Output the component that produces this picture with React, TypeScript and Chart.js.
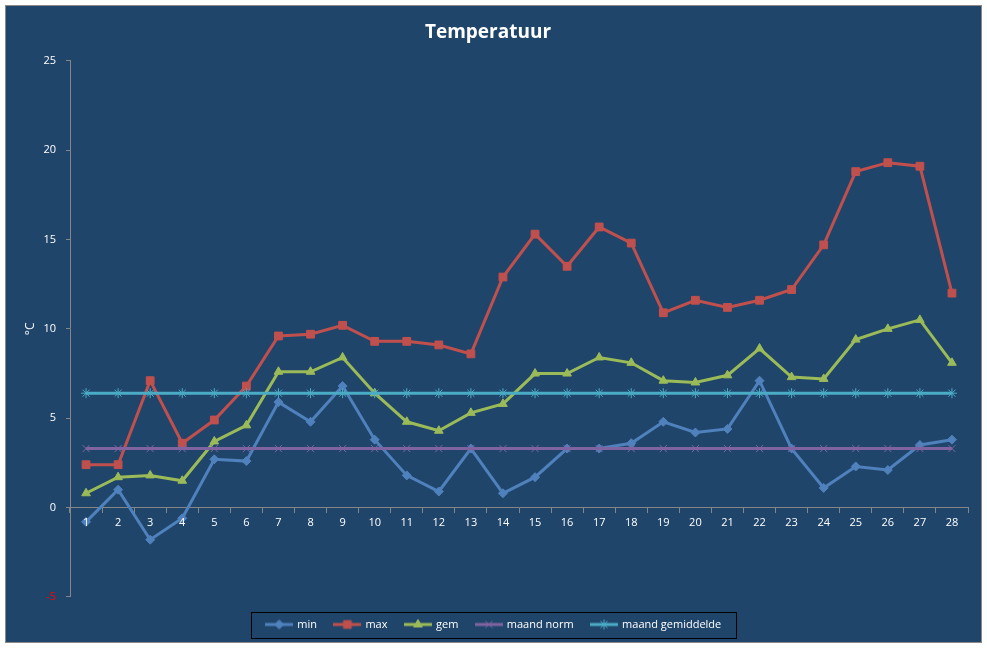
import React, { useEffect, useRef } from 'react';
import { Chart, registerables } from 'chart.js';
import { drawPoint } from 'chart.js/helpers';

Chart.register(...registerables);

// days of the month
const days = ['1', '2', '3', '4', '5', '6', '7', '8', '9', '10', '11', '12', '13', '14',
    '15', '16', '17', '18', '19', '20', '21', '22', '23', '24', '25', '26', '27', '28'];

const minTemp = [-0.8, 1.0, -1.8, -0.6, 2.7, 2.6, 5.9, 4.8, 6.8, 3.8, 1.8, 0.9, 3.3, 0.8,
    1.7, 3.3, 3.3, 3.6, 4.8, 4.2, 4.4, 7.1, 3.3, 1.1, 2.3, 2.1, 3.5, 3.8];
const maxTemp = [2.4, 2.4, 7.1, 3.6, 4.9, 6.8, 9.6, 9.7, 10.2, 9.3, 9.3, 9.1, 8.6, 12.9,
    15.3, 13.5, 15.7, 14.8, 10.9, 11.6, 11.2, 11.6, 12.2, 14.7, 18.8, 19.3, 19.1, 12.0];
const gemTemp = [0.8, 1.7, 1.8, 1.5, 3.7, 4.6, 7.6, 7.6, 8.4, 6.4, 4.8, 4.3, 5.3, 5.8,
    7.5, 7.5, 8.4, 8.1, 7.1, 7.0, 7.4, 8.9, 7.3, 7.2, 9.4, 10.0, 10.5, 8.1];
const maandNorm = [3.3, 3.3, 3.3, 3.3, 3.3, 3.3, 3.3, 3.3, 3.3, 3.3, 3.3, 3.3, 3.3, 3.3,
    3.3, 3.3, 3.3, 3.3, 3.3, 3.3, 3.3, 3.3, 3.3, 3.3, 3.3, 3.3, 3.3, 3.3];
const maandGem = [6.4, 6.4, 6.4, 6.4, 6.4, 6.4, 6.4, 6.4, 6.4, 6.4, 6.4, 6.4, 6.4, 6.4,
    6.4, 6.4, 6.4, 6.4, 6.4, 6.4, 6.4, 6.4, 6.4, 6.4, 6.4, 6.4, 6.4, 6.4];

const seriesNames = ['min', 'max', 'gem', 'maand norm', 'maand gemiddelde'];
const seriesColors = ['#4f81bd', '#c0504d', '#9bbb59', '#8064a2', '#4bacc6'];
const seriesMarkers = ['rectRot', 'rect', 'triangle', 'crossRot', 'star'];
const markerSizes = [4.5, 5.5, 5, 5, 5];

const yMin = -5;
const yMax = 25;
const yStep = 5;

const FONT = "'Open Sans', 'Noto Sans', sans-serif";
const BG = '#20456a';

// little line + marker icons for the legend
function makeLegendIcon(color: string, marker: string, size: number) {
    const c = document.createElement('canvas');
    c.width = 28;
    c.height = 12;
    const ctx = c.getContext('2d')!;
    ctx.strokeStyle = color;
    ctx.lineWidth = 3;
    ctx.beginPath();
    ctx.moveTo(0, 6);
    ctx.lineTo(28, 6);
    ctx.stroke();
    ctx.fillStyle = color;
    ctx.lineWidth = 1;
    drawPoint(ctx, { pointStyle: marker, radius: size, borderWidth: 1, rotation: 0 } as any, 14, 6);
    return c;
}

const backgroundPlugin = {
    id: 'bg',
    beforeDraw(chart: Chart) {
        const { ctx, width, height } = chart;
        ctx.save();
        ctx.fillStyle = '#ffffff';
        ctx.fillRect(0, 0, width, height);
        ctx.fillStyle = BG;
        ctx.fillRect(5, 5, width - 10, height - 10);
        ctx.strokeStyle = '#8a8a8a';
        ctx.lineWidth = 1;
        ctx.strokeRect(5.5, 5.5, width - 11, height - 11);
        ctx.restore();
    }
};

// nudge the legend a bit to the right, and frame it
const legendBorderPlugin = {
    id: 'legendBorder',
    afterLayout(chart: Chart) {
        const legend: any = chart.legend;
        if (!legend) return;
        legend.left += 6;
        legend.right += 6;
    },
    afterDraw(chart: Chart) {
        const legend: any = chart.legend;
        if (!legend || !legend.legendHitBoxes || !legend.legendHitBoxes.length) return;
        const boxes = legend.legendHitBoxes;
        let left = Infinity;
        let right = -Infinity;
        boxes.forEach((b: any) => {
            left = Math.min(left, b.left);
            right = Math.max(right, b.left + b.width);
        });
        const cy = boxes[0].top + boxes[0].height / 2;
        const ctx = chart.ctx;
        ctx.save();
        ctx.strokeStyle = '#000000';
        ctx.lineWidth = 1;
        ctx.strokeRect(Math.round(left - 16) + 0.5, Math.round(cy - 13) + 0.5, Math.round(right - left + 30), 26);
        ctx.restore();
    }
};

const App: React.FC = () => {
    const chartRef = useRef<HTMLCanvasElement | null>(null);
    const chartInstanceRef = useRef<Chart | null>(null);

    useEffect(() => {
        if (!chartRef.current) return;
        const ctx = chartRef.current.getContext('2d');
        if (!ctx) return;

        const icons = seriesColors.map((c, i) => makeLegendIcon(c, seriesMarkers[i], markerSizes[i]));
        const values = [minTemp, maxTemp, gemTemp, maandNorm, maandGem];

        chartInstanceRef.current = new Chart(ctx, {
            type: 'line',
            data: {
                labels: days,
                datasets: values.map((data, i) => ({
                    label: seriesNames[i],
                    data,
                    borderColor: seriesColors[i],
                    backgroundColor: seriesColors[i],
                    borderWidth: 3,
                    pointStyle: seriesMarkers[i] as any,
                    pointRadius: markerSizes[i],
                    pointBorderWidth: 1,
                    pointBackgroundColor: seriesColors[i],
                    pointBorderColor: seriesColors[i],
                    tension: 0,
                    order: 5 - i
                }))
            },
            options: {
                animation: false,
                responsive: true,
                maintainAspectRatio: false,
                layout: { padding: { left: 8, right: 19, top: 0, bottom: 8 } },
                plugins: {
                    title: {
                        display: true,
                        text: 'Temperatuur',
                        color: '#ffffff',
                        font: { family: FONT, size: 19, weight: 'bold' },
                        padding: { top: 21, bottom: 17 }
                    },
                    legend: {
                        position: 'bottom',
                        // empty title only used as a spacer above the items
                        title: { display: true, text: ' ', font: { size: 3.4 }, padding: 0 },
                        labels: {
                            color: '#ffffff',
                            font: { family: FONT, size: 11 },
                            usePointStyle: true,
                            pointStyleWidth: 25,
                            padding: 18,
                            sort: (a: any, b: any) => a.datasetIndex - b.datasetIndex,
                            generateLabels: (chart: Chart) => {
                                const items = Chart.defaults.plugins.legend.labels.generateLabels(chart);
                                return items.map((it: any) => ({ ...it, pointStyle: icons[it.datasetIndex] }));
                            }
                        }
                    },
                    tooltip: { enabled: false }
                },
                scales: {
                    x: {
                        position: { y: 0 } as any,
                        offset: true,
                        grid: {
                            offset: true,
                            drawOnChartArea: false,
                            drawTicks: true,
                            tickLength: 5,
                            color: '#868686'
                        },
                        border: { display: true, color: '#868686', width: 1 },
                        ticks: {
                            z: 1,
                            color: '#ffffff',
                            font: { family: FONT, size: 11 },
                            padding: 4,
                            maxRotation: 0,
                            autoSkip: false
                        },
                        afterFit: (scale: any) => { scale.height = 0; }
                    },
                    y: {
                        min: yMin,
                        max: yMax,
                        grid: {
                            drawOnChartArea: false,
                            drawTicks: true,
                            tickLength: 4,
                            color: '#868686'
                        },
                        border: { display: true, color: '#868686', width: 1 },
                        ticks: {
                            stepSize: yStep,
                            padding: 10,
                            font: { family: FONT, size: 11 },
                            color: (c: any) => (c.tick && c.tick.value < 0 ? '#ff0000' : '#ffffff')
                        },
                        title: {
                            display: true,
                            text: '°C',
                            color: '#ffffff',
                            font: { family: FONT, size: 12 },
                            padding: { top: 15, bottom: 0 }
                        },
                        afterFit: (scale: any) => { scale.width = 62; }
                    }
                }
            },
            plugins: [backgroundPlugin, legendBorderPlugin]
        });

        return () => {
            if (chartInstanceRef.current) {
                chartInstanceRef.current.destroy();
                chartInstanceRef.current = null;
            }
        };
    }, []);

    return (
        <div style={{ position: 'absolute', left: 0, top: 0, width: 987, height: 648 }}>
            <canvas ref={chartRef} />
        </div>
    );
};

export default App;
